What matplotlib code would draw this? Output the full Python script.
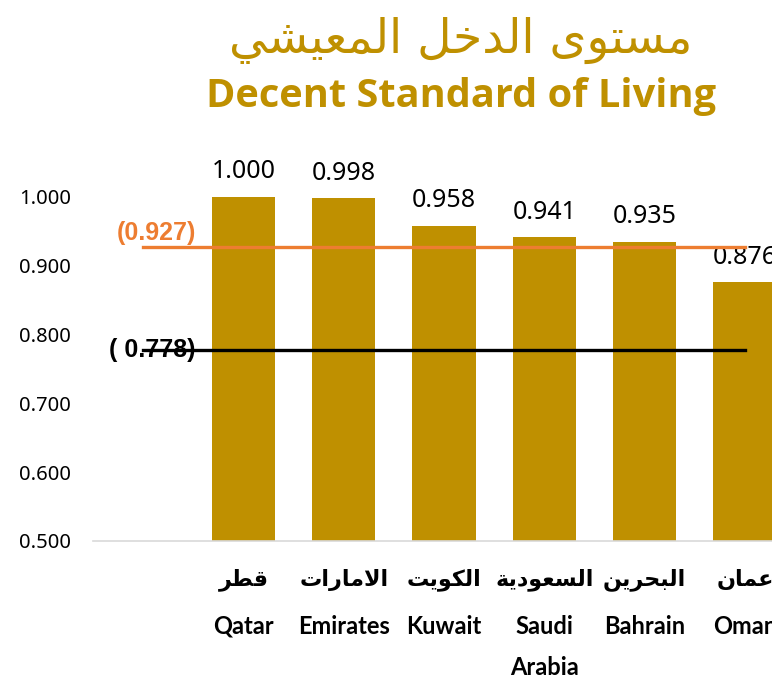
import matplotlib
matplotlib.use("Agg")
import matplotlib.pyplot as plt
import matplotlib.transforms as mtransforms
import numpy as np

countries_ar = ["قطر", "الامارات", "الكويت", "السعودية", "البحرين", "عمان"]
countries_en = ["Qatar", "Emirates", "Kuwait", "Saudi\nArabia", "Bahrain", "Oman"]
scores = [1.000, 0.998, 0.958, 0.941, 0.935, 0.876]
gcc_avg = 0.927
arab_avg = 0.778
y_ticks = [0.5, 0.6, 0.7, 0.8, 0.9, 1.0]

title_ar = "مستوى الدخل المعيشي"
title_en = "Decent Standard of Living"

GOLD = "#BF9000"
ORANGE = "#ED7D31"

# minimal arabic shaping: (isolated, final, initial, medial)
FORMS = {
    "ا": (0xFE8D, 0xFE8E, None, None),
    "ب": (0xFE8F, 0xFE90, 0xFE91, 0xFE92),
    "ة": (0xFE93, 0xFE94, None, None),
    "ت": (0xFE95, 0xFE96, 0xFE97, 0xFE98),
    "ح": (0xFEA1, 0xFEA2, 0xFEA3, 0xFEA4),
    "خ": (0xFEA5, 0xFEA6, 0xFEA7, 0xFEA8),
    "د": (0xFEA9, 0xFEAA, None, None),
    "ر": (0xFEAD, 0xFEAE, None, None),
    "س": (0xFEB1, 0xFEB2, 0xFEB3, 0xFEB4),
    "ش": (0xFEB5, 0xFEB6, 0xFEB7, 0xFEB8),
    "ط": (0xFEC1, 0xFEC2, 0xFEC3, 0xFEC4),
    "ع": (0xFEC9, 0xFECA, 0xFECB, 0xFECC),
    "ق": (0xFED5, 0xFED6, 0xFED7, 0xFED8),
    "ك": (0xFED9, 0xFEDA, 0xFEDB, 0xFEDC),
    "ل": (0xFEDD, 0xFEDE, 0xFEDF, 0xFEE0),
    "م": (0xFEE1, 0xFEE2, 0xFEE3, 0xFEE4),
    "ن": (0xFEE5, 0xFEE6, 0xFEE7, 0xFEE8),
    "و": (0xFEED, 0xFEEE, None, None),
    "ى": (0xFEEF, 0xFEF0, None, None),
    "ي": (0xFEF1, 0xFEF2, 0xFEF3, 0xFEF4),
}


def dual(c):
    return c in FORMS and FORMS[c][2] is not None


def shape(text):
    out = []
    i = 0
    while i < len(text):
        c = text[i]
        prev = text[i - 1] if i > 0 else " "
        joins_prev = dual(prev) and c in FORMS
        if c == "ل" and i + 1 < len(text) and text[i + 1] == "ا":
            out.append(chr(0xFEFC if joins_prev else 0xFEFB))
            i += 2
            continue
        if c not in FORMS:
            out.append(c)
            i += 1
            continue
        nxt = text[i + 1] if i + 1 < len(text) else " "
        joins_next = dual(c) and nxt in FORMS
        iso, fin, ini, med = FORMS[c]
        if joins_prev and joins_next:
            out.append(chr(med))
        elif joins_prev:
            out.append(chr(fin))
        elif joins_next:
            out.append(chr(ini))
        else:
            out.append(chr(iso))
        i += 1
    return "".join(out)[::-1]


def main():
    fig = plt.figure(figsize=(7.72, 6.82), dpi=100)
    ax = fig.add_axes([93 / 772, 141 / 682, 679 / 772, 413 / 682])

    x = np.arange(1, len(scores) + 1)
    ax.bar(x, scores, width=0.63, color=GOLD, zorder=2)
    for xi, v in zip(x, scores):
        ax.annotate(f"{v:.3f}", (xi, v), xytext=(0, 9), textcoords="offset points",
                    ha="center", va="bottom", fontsize=18, family="Noto Sans",
                    color="black")

    ax.plot([0, len(scores)], [gcc_avg, gcc_avg], color=ORANGE, lw=2.4, zorder=3)
    ax.plot([0, len(scores)], [arab_avg, arab_avg], color="black", lw=2.4, zorder=3)
    ax.annotate(f"({gcc_avg:.3f})", (0, gcc_avg), xytext=(38, 10),
                textcoords="offset points", ha="right", va="center",
                fontsize=18, fontweight="bold", family="Liberation Sans",
                color=ORANGE, zorder=4)
    ax.annotate(f"( {arab_avg:.3f})", (0, arab_avg), xytext=(38, 0),
                textcoords="offset points", ha="right", va="center",
                fontsize=18, fontweight="bold", family="Liberation Sans",
                color="black", zorder=1)

    ax.set_xlim(-0.5, -0.5 + 679 / 100.3)
    ax.set_ylim(0.5, 1.1)
    ax.set_yticks(y_ticks)
    ax.set_yticklabels([f"{t:.3f}" for t in y_ticks], fontsize=14.5,
                       family="Noto Sans")
    ax.tick_params(axis="y", length=0, pad=16)
    ax.tick_params(axis="x", length=0)

    ax.set_xticks(x)
    ax.set_xticklabels(countries_en, fontsize=17, fontweight="bold", family="Lato",
                       linespacing=1.95)
    ax.tick_params(axis="x", pad=53)
    trans = mtransforms.blended_transform_factory(ax.transData, ax.transAxes)
    for xi, name in zip(x, countries_ar):
        ax.text(xi, -39 / 413, shape(name), transform=trans, ha="center",
                va="center", fontsize=16, fontweight="bold", family="DejaVu Sans")

    for s in ["top", "right", "left"]:
        ax.spines[s].set_visible(False)
    ax.spines["bottom"].set_color("#D9D9D9")
    ax.spines["bottom"].set_linewidth(1.2)

    fig.text(461 / 772, 1 - 40 / 682, shape(title_ar), ha="center", va="center",
             fontsize=34, color=GOLD, family="DejaVu Sans")
    fig.text(461 / 772, 1 - 96 / 682, title_en, ha="center", va="center",
             fontsize=28.6, fontweight="bold", color=GOLD, family="Open Sans")

    fig.savefig("out.png", dpi=100)


if __name__ == "__main__":
    main()
